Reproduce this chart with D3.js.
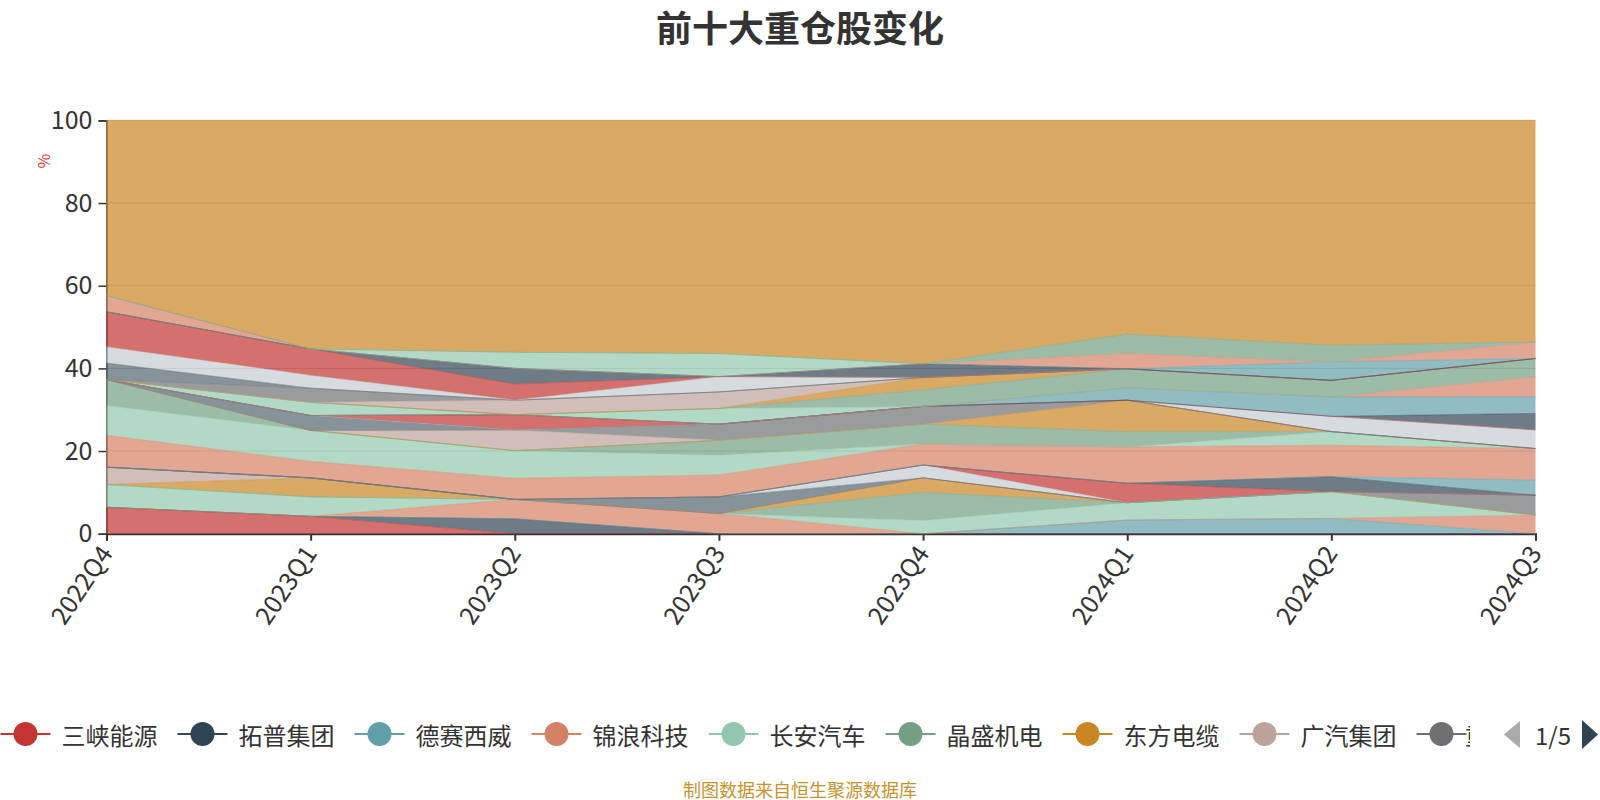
<!DOCTYPE html>
<html><head><meta charset="utf-8">
<script src="https://cdn.jsdelivr.net/npm/d3@7"></script>
<style>body{margin:0;background:#fff}svg{display:block}</style>
</head><body>
<svg id="c" width="1600" height="800"></svg>
<script>
(function(){
// ---------------- data ----------------
const quarters = ['2022Q4','2023Q1','2023Q2','2023Q3','2023Q4','2024Q1','2024Q2','2024Q3'];
const yTicks = [0,20,40,60,80,100];
const stockNames = ['三峡能源','拓普集团','德赛西威','锦浪科技','长安汽车','晶盛机电','东方电缆','广汽集团',
  '重仓股09','重仓股10','重仓股11','重仓股12','重仓股13','重仓股14','重仓股15','重仓股16','重仓股17','重仓股18',
  '重仓股19','重仓股20','重仓股21','重仓股22','重仓股23','重仓股24','重仓股25','重仓股26','重仓股27','重仓股28',
  '重仓股29','重仓股30','重仓股31','重仓股32','重仓股33','重仓股34','重仓股35','重仓股36','重仓股37','重仓股38',
  '重仓股39','其他'];
// percent of net value per quarter, one row per series (stack order)
const holdings = [
 [6.4,4.2,0,0,0,0,0,0],
 [0,0,3.6,0,0,0,0,0],
 [0,0,0,0,0,3.3,3.7,0],
 [0,0,4.7,4.9,0,0,0,4.5],
 [5.5,4.7,0,0,3.2,4.2,6.5,0],
 [0,0,0,0,6.8,0,0,0],
 [0,4.6,0,0,3.5,0,0,0],
 [4.2,0,0,0,0,0,0,0],
 [0,0,0,0,0,0,0,4.8],
 [0,0,0,4.0,0,0,0,0],
 [0,0,0,0,3.1,0,0,0],
 [0,0,0,0,0,4.7,0,0],
 [0,0,0,0,0,0,3.6,0],
 [0,0,0,0,0,0,0,3.7],
 [7.7,4.0,5.1,5.3,5.1,8.8,7.6,7.6],
 [7.2,7.5,6.7,4.8,0,0,3.3,0],
 [6.3,0,0,3.6,4.8,3.7,0,0],
 [0,0,0,0,0,7.6,0,0],
 [0,0,5.0,0,0,0,0,0],
 [0,0,0,3.9,4.3,0,0,0],
 [0,3.6,0,0,0,0,0,0],
 [0,0,0,0,0,0,3.7,4.5],
 [0,0,3.7,0,0,0,0,0],
 [0,0,0,0,0,0,0,4.0],
 [0,0,0,0,0,3.0,4.7,4.0],
 [0,0,0,0,0,0,0,4.9],
 [0,3.2,0,3.8,0,0,0,0],
 [0,0,0,0,4.0,4.6,4.0,4.4],
 [0,0,0,0,3.0,0,0,0],
 [0,0,3.5,4.0,0,0,0,0],
 [0,3.4,0,0,0,0,0,0],
 [4.0,0,0,0,0,0,0,0],
 [3.9,3.1,0,3.7,0,0,0,0],
 [8.5,6.4,3.9,0,0,0,0,0],
 [0,0,3.8,0,3.3,0,0,0],
 [0,0,0,0,0,0,4.5,0],
 [3.9,0,0,0,0,3.8,0,4.0],
 [0,0,3.9,5.6,0,0,0,0],
 [0,0,0,0,0,4.6,4.0,0],
 [42.4,55.3,56.1,56.4,58.9,51.7,54.4,53.6]
];
const palette = ['#c23531','#2f4554','#61a0a8','#d48265','#91c7ae','#749f83','#ca8622','#bda29a','#6e7074','#546570','#c4ccd3'];

// ---------------- chart ----------------
const svg = d3.select('#c');
const FONT = '"Noto Sans CJK SC","Noto Sans",sans-serif';
const pL = 106.5, pR = 1535.5, pT = 120.4, pB = 533.7;
const x = d3.scalePoint().domain(quarters).range([pL, pR]);
const y = d3.scaleLinear().domain([0,100]).range([pB, pT]);

const rows = quarters.map((q,i)=>{const r={quarter:q}; stockNames.forEach((n,k)=>r[n]=holdings[k][i]); return r;});
const layers = d3.stack().keys(stockNames)(rows);

// title
svg.append('text').attr('x',800).attr('y',26).attr('text-anchor','middle').attr('dominant-baseline','central')
  .attr('font-family',FONT).attr('font-weight','bold').attr('font-size',36).attr('fill','#333').text('前十大重仓股变化');

// grid
svg.append('g').selectAll('line').data(yTicks.filter(t=>t>0)).join('line')
  .attr('x1',pL).attr('x2',pR).attr('y1',d=>y(d)).attr('y2',d=>y(d))
  .attr('stroke','#ccc').attr('stroke-width',1);

// y axis
const ya = svg.append('g').attr('transform',`translate(${pL},0)`)
  .call(d3.axisLeft(y).tickValues(yTicks).tickSize(8).tickPadding(6).tickFormat(d3.format('d')));
ya.select('.domain').attr('stroke','#333').attr('stroke-width',1.5);
ya.selectAll('.tick line').attr('stroke','#333').attr('stroke-width',1.5);
ya.selectAll('text').attr('font-family',FONT).attr('font-size',25).attr('fill','#333');

// x axis
const xa = svg.append('g').attr('transform',`translate(0,${pB})`)
  .call(d3.axisBottom(x).tickSize(7).tickFormat(''));
xa.select('.domain').attr('stroke','#333').attr('stroke-width',2);
xa.selectAll('.tick line').attr('stroke','#333').attr('stroke-width',2);
svg.append('g').selectAll('text').data(quarters).join('text')
  .attr('transform',d=>`translate(${x(d)},${pB+15}) rotate(-56)`)
  .attr('text-anchor','end').attr('dy','0.35em')
  .attr('font-family',FONT).attr('font-size',25).attr('fill','#333').text(d=>d);

// unit label
svg.append('text').attr('transform','translate(43,161) rotate(-90)').attr('text-anchor','middle')
  .attr('dominant-baseline','central').attr('font-family',FONT).attr('font-size',16).attr('fill','#e33')
  .text('%');

// areas
const area = d3.area().x(d=>x(d.data.quarter)).y0(d=>y(d[0])).y1(d=>y(d[1]));
const line = d3.line().x(d=>x(d.data.quarter)).y(d=>y(d[1]));
const g = svg.append('g');
layers.forEach((L,k)=>{
  const c = palette[k % palette.length];
  g.append('path').attr('d',area(L)).attr('fill',c).attr('fill-opacity',0.7);
});
layers.forEach((L,k)=>{
  const c = palette[k % palette.length];
  g.append('path').attr('d',line(L)).attr('fill','none').attr('stroke',c).attr('stroke-width',1).attr('stroke-opacity',0.45);
});

// legend (scroll legend, page 1)
svg.append('defs').append('clipPath').attr('id','lc').append('rect').attr('x',0).attr('y',700).attr('width',1470).attr('height',70);
const lg = svg.append('g').attr('clip-path','url(#lc)');
const ly = 734;
stockNames.slice(0,9).forEach((n,i)=>{
  const cx = 25.5 + i*177, c = palette[i % palette.length];
  lg.append('line').attr('x1',cx-25).attr('x2',cx+25).attr('y1',ly).attr('y2',ly).attr('stroke',c).attr('stroke-width',2);
  lg.append('circle').attr('cx',cx).attr('cy',ly).attr('r',12).attr('fill',c);
  lg.append('text').attr('x',Math.min(cx+36,1465)).attr('y',ly).attr('dominant-baseline','central')
    .attr('font-family',FONT).attr('font-size',24).attr('fill','#333').text(n);
});
svg.append('polygon').attr('points','1520,721 1520,748 1504,734.5').attr('fill','#aaa');
svg.append('text').attr('x',1553).attr('y',ly).attr('text-anchor','middle').attr('dominant-baseline','central')
  .attr('font-family',FONT).attr('font-size',24).attr('fill','#333').text('1/5');
svg.append('polygon').attr('points','1582,720 1582,749 1598,734.5').attr('fill','#2f4554');

// footer
svg.append('text').attr('x',800).attr('y',789).attr('text-anchor','middle').attr('dominant-baseline','central')
  .attr('font-family',FONT).attr('font-size',18).attr('fill','#c8922d').text('制图数据来自恒生聚源数据库');
})();
</script>
</body></html>
